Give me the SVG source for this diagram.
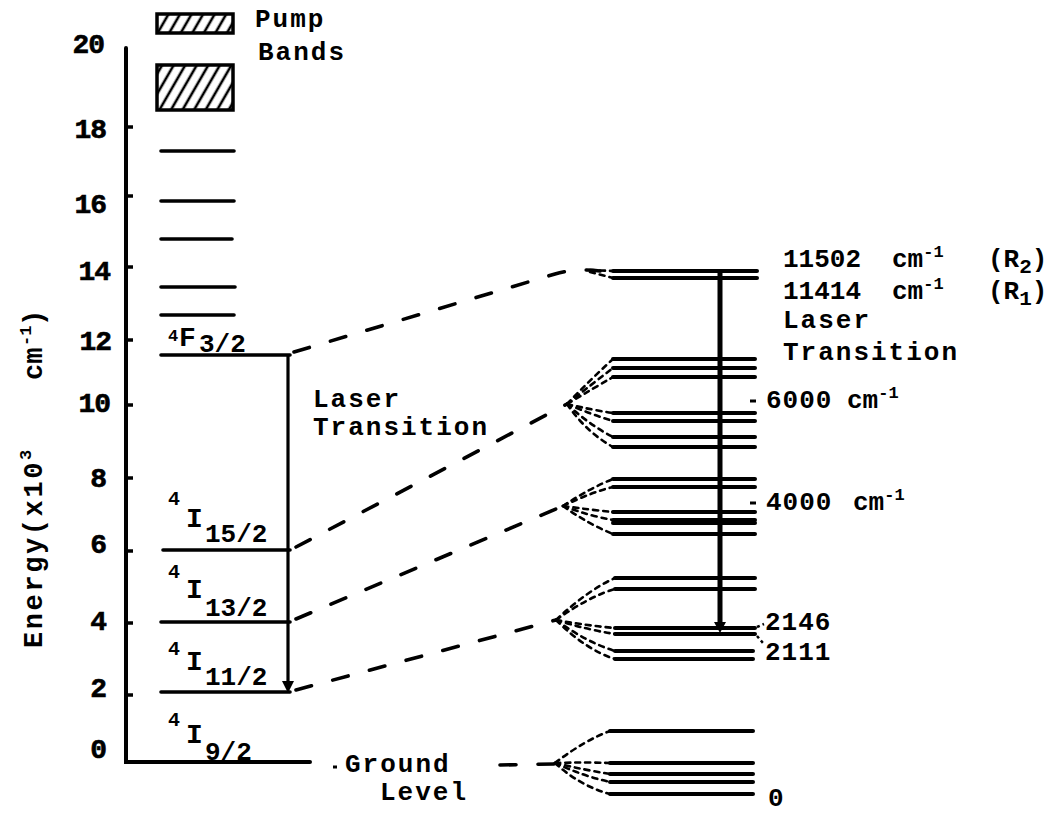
<svg xmlns="http://www.w3.org/2000/svg" width="1055" height="814" viewBox="0 0 1055 814">
<defs>
<pattern id="hatch" patternUnits="userSpaceOnUse" width="10" height="10" patternTransform="rotate(30)">
<line x1="3" y1="0" x2="3" y2="10" stroke="#000" stroke-width="2.6"/>
</pattern>
<style>
.ax{stroke:#000;stroke-width:4;fill:none;stroke-linecap:round}
.lvl{stroke:#000;stroke-width:3.6;stroke-linecap:round}
.rl{stroke:#000;stroke-width:4;stroke-linecap:round}
.dash{stroke:#000;stroke-width:3.6;fill:none;stroke-dasharray:16 22;stroke-linecap:round}
.fan{stroke:#000;stroke-width:2.6;fill:none;stroke-dasharray:5 5;stroke-linecap:round}
.t{font-family:"Liberation Mono","DejaVu Sans Mono",monospace;font-weight:bold;font-size:26px;fill:#000}
.w{letter-spacing:2px}
.num{font-size:28px;letter-spacing:-1px;text-anchor:end;stroke:#000;stroke-width:0.6}
.sup{font-size:17px}
.lab{font-size:28px}
</style>
</defs>
<rect width="1055" height="814" fill="#fff"/>

<g id="axis">
<path class="ax" d="M126 48 V762 H310"/>
<g stroke="#000" stroke-width="3.5">
<line x1="126" y1="127" x2="133" y2="127"/>
<line x1="126" y1="196" x2="133" y2="196"/>
<line x1="126" y1="267" x2="133" y2="267"/>
<line x1="126" y1="340" x2="133" y2="340"/>
<line x1="126" y1="405" x2="133" y2="405"/>
<line x1="126" y1="478" x2="133" y2="478"/>
<line x1="126" y1="551" x2="133" y2="551"/>
<line x1="126" y1="623" x2="133" y2="623"/>
<line x1="126" y1="695" x2="133" y2="695"/>
</g>
<g class="t num">
<text x="104" y="53">20</text>
<text x="106" y="138">18</text>
<text x="106" y="213">16</text>
<text x="110" y="280">14</text>
<text x="111" y="350">12</text>
<text x="110" y="412">10</text>
<text x="106" y="487">8</text>
<text x="106" y="553">6</text>
<text x="106" y="630">4</text>
<text x="106" y="697">2</text>
<text x="106" y="758">0</text>
</g>
<text class="t" transform="translate(42,648) rotate(-90)" style="font-size:27px;letter-spacing:2.6px">Energy(x10<tspan class="sup" dy="-11">3</tspan><tspan dy="11" x="268" style="letter-spacing:0">cm</tspan><tspan class="sup" dy="-11" x="302" style="letter-spacing:0">-1</tspan><tspan dy="11" x="322" style="letter-spacing:0">)</tspan></text>
</g>

<g id="pump-bands">
<rect x="157" y="14" width="76" height="19" fill="url(#hatch)" stroke="#000" stroke-width="3.5"/>
<rect x="157" y="65" width="76" height="45" fill="url(#hatch)" stroke="#000" stroke-width="3.5"/>
<text class="t w" x="255" y="27">Pump</text>
<text class="t w" x="258" y="60">Bands</text>
</g>

<g id="upper-levels">
<line class="lvl" x1="161" y1="151" x2="234" y2="151"/>
<line class="lvl" x1="161" y1="201" x2="234" y2="201"/>
<line class="lvl" x1="161" y1="239" x2="232" y2="239"/>
<line class="lvl" x1="161" y1="287" x2="235" y2="287"/>
<line class="lvl" x1="161" y1="315" x2="234" y2="315"/>
</g>

<g id="F32">
<line class="lvl" x1="161" y1="355" x2="290" y2="355"/>
<text class="t"><tspan class="sup" x="168" y="341">4</tspan><tspan class="lab" x="179" y="346">F</tspan><tspan x="199" y="352">3/2</tspan></text>
</g>
<g id="I152">
<line class="lvl" x1="163" y1="550" x2="290" y2="550"/>
<text class="t"><tspan style="font-size:20px" x="168" y="505">4</tspan><tspan class="lab" x="186" y="527">I</tspan><tspan x="205" y="542">15/2</tspan></text>
</g>
<g id="I132">
<line class="lvl" x1="161" y1="622" x2="290" y2="622"/>
<text class="t"><tspan style="font-size:20px" x="168" y="578">4</tspan><tspan class="lab" x="186" y="598">I</tspan><tspan x="205" y="616">13/2</tspan></text>
</g>
<g id="I112">
<line class="lvl" x1="161" y1="692" x2="290" y2="692"/>
<text class="t"><tspan style="font-size:20px" x="168" y="655">4</tspan><tspan class="lab" x="186" y="670">I</tspan><tspan x="205" y="685">11/2</tspan></text>
</g>
<g id="I92">
<text class="t"><tspan style="font-size:20px" x="168" y="726">4</tspan><tspan class="lab" x="186" y="743">I</tspan><tspan x="205" y="760">9/2</tspan></text>
</g>

<g id="left-transition">
<line x1="288" y1="355" x2="288" y2="684" stroke="#000" stroke-width="3.2"/>
<polygon points="282,681 294,681 288,693" fill="#000"/>
<text class="t w" x="313" y="407">Laser</text>
<text class="t w" x="313" y="435">Transition</text>
</g>

<g id="ground-label">
<line x1="333" y1="767" x2="337" y2="767" stroke="#000" stroke-width="3"/>
<text class="t w" x="345" y="772">Ground</text>
<text class="t w" x="380" y="800">Level</text>
</g>

<g id="connectors">
<path class="dash" d="M294 352 L555 274 Q575 268 600 271"/>
<path class="fan" d="M590 270 L613 271 M590 272 L613 278"/>
<path class="dash" d="M296 547 L567 404"/>
<path class="dash" d="M296 619 L563 506"/>
<path class="dash" d="M296 690 L556 620"/>
<path class="dash" d="M500 765 L555 764"/>
<g class="fan">
<path d="M567 404 Q590 380 613 359"/>
<path d="M567 404 Q592 384 613 368"/>
<path d="M567 404 Q594 388 613 377"/>
<path d="M567 404 Q592 410 613 413"/>
<path d="M567 404 Q590 414 613 421"/>
<path d="M567 404 Q588 424 613 437"/>
<path d="M567 404 Q586 432 613 447"/>
<path d="M563 506 Q590 488 613 479"/>
<path d="M563 506 Q592 492 613 487"/>
<path d="M563 506 Q592 510 613 512"/>
<path d="M563 506 Q590 516 613 520"/>
<path d="M563 506 Q588 524 613 534"/>
<path d="M556 620 Q588 590 615 578"/>
<path d="M556 620 Q590 596 615 589"/>
<path d="M556 620 Q590 626 615 628"/>
<path d="M556 620 Q588 630 615 634"/>
<path d="M556 620 Q586 642 615 651"/>
<path d="M556 620 Q586 650 615 659"/>
<path d="M555 763 Q585 740 610 731"/>
<path d="M555 763 Q585 762 610 763"/>
<path d="M555 763 Q585 770 610 774"/>
<path d="M555 763 Q583 776 610 782"/>
<path d="M555 763 Q580 786 610 794"/>
</g>
</g>

<g id="R-levels">
<line class="rl" x1="613" y1="271" x2="757" y2="271"/>
<line class="rl" x1="613" y1="278" x2="757" y2="278"/>
<text class="t" x="783" y="267">11502</text>
<text class="t" x="892" y="267">cm<tspan class="sup" dy="-10">-1</tspan></text>
<text class="t" x="988" y="267">(R<tspan style="font-size:21px" dy="6">2</tspan><tspan dy="-6">)</tspan></text>
<text class="t" x="783" y="299">11414</text>
<text class="t" x="892" y="299">cm<tspan class="sup" dy="-10">-1</tspan></text>
<text class="t" x="988" y="299">(R<tspan style="font-size:21px" dy="6">1</tspan><tspan dy="-6">)</tspan></text>
<text class="t w" x="783" y="328">Laser</text>
<text class="t w" x="783" y="360">Transition</text>
</g>

<g id="I152-stark">
<line class="rl" x1="613" y1="359" x2="755" y2="359"/>
<line class="rl" x1="613" y1="368" x2="755" y2="368"/>
<line class="rl" x1="613" y1="377" x2="755" y2="377"/>
<line class="rl" x1="613" y1="413" x2="755" y2="413"/>
<line class="rl" x1="613" y1="421" x2="755" y2="421"/>
<line class="rl" x1="613" y1="437" x2="755" y2="437"/>
<line class="rl" x1="613" y1="447" x2="755" y2="447"/>
<line x1="750" y1="401" x2="756" y2="401" stroke="#000" stroke-width="3"/>
<text class="t" x="766" y="408" style="letter-spacing:1px">6000</text>
<text class="t" x="847" y="408">cm<tspan class="sup" dy="-10">-1</tspan></text>
</g>

<g id="I132-stark">
<line class="rl" x1="613" y1="479" x2="755" y2="479"/>
<line class="rl" x1="613" y1="487" x2="755" y2="487"/>
<line class="rl" x1="613" y1="512" x2="755" y2="512"/>
<line class="rl" x1="613" y1="520" x2="755" y2="520"/>
<line class="rl" x1="613" y1="523" x2="755" y2="523"/>
<line class="rl" x1="613" y1="534" x2="755" y2="534"/>
<line x1="750" y1="503" x2="756" y2="503" stroke="#000" stroke-width="3"/>
<text class="t" x="766" y="510" style="letter-spacing:1px">4000</text>
<text class="t" x="853" y="510">cm<tspan class="sup" dy="-10">-1</tspan></text>
</g>

<g id="I112-stark">
<line class="rl" x1="615" y1="578" x2="755" y2="578"/>
<line class="rl" x1="615" y1="589" x2="755" y2="589"/>
<line class="rl" x1="615" y1="628" x2="755" y2="628"/>
<line class="rl" x1="615" y1="634" x2="755" y2="634"/>
<line class="rl" x1="615" y1="651" x2="753" y2="651"/>
<line class="rl" x1="615" y1="659" x2="753" y2="659"/>
<path d="M757 627 L764 624 M757 636 L763 643" stroke="#000" stroke-width="2.5" stroke-dasharray="3 3" fill="none"/>
<text class="t" x="765" y="630" style="letter-spacing:1px">2146</text>
<text class="t" x="765" y="660" style="letter-spacing:1px">2111</text>
</g>

<g id="I92-stark">
<line class="rl" x1="610" y1="731" x2="753" y2="731"/>
<line class="rl" x1="610" y1="763" x2="753" y2="763"/>
<line class="rl" x1="610" y1="774" x2="753" y2="774"/>
<line class="rl" x1="610" y1="782" x2="753" y2="782"/>
<line class="rl" x1="610" y1="794" x2="753" y2="794"/>
<text class="t" x="768" y="806">0</text>
</g>

<g id="right-transition">
<line x1="720" y1="270" x2="720" y2="624" stroke="#000" stroke-width="5"/>
<polygon points="714,622 726,622 720,633" fill="#000"/>
</g>
</svg>
